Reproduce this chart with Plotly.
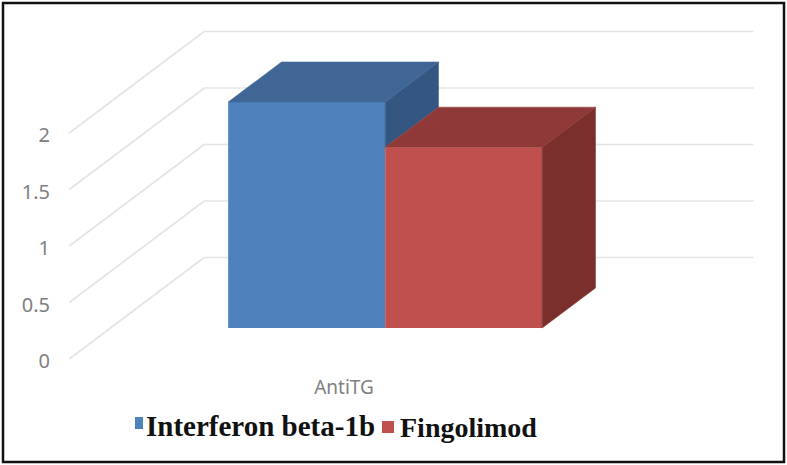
import plotly.graph_objects as go

categories = ["AntiTG"]
series_names = ["Interferon beta-1b", "Fingolimod"]
series_values = [2.0, 1.6]
tick_vals = [0, 0.5, 1, 1.5, 2]
tick_text = ["0", "0.5", "1", "1.5", "2"]

W, H = 787, 465
X0_PX, X_UNIT = 344, 157
Y0_PX, Y_UNIT = 359, 113
DX, DY = 135 / X_UNIT, 101.5 / Y_UNIT
NEAR, FAR = 0.305, 0.70
FLOOR_HALF = 1.75
FRONT = ["#4F81BD", "#C0504D"]
TOP = ["#3F6694", "#8F3A38"]
SIDE = ["#335781", "#7B2F2D"]
GRID = "#E4E4E4"


def proj(x, v, d):
    return x + d * DX, v + d * DY


x_range = [-X0_PX / X_UNIT, (W - X0_PX) / X_UNIT]
y_range = [(Y0_PX - H) / Y_UNIT, Y0_PX / Y_UNIT]


def px_x(p):
    return p / W


def px_y(p):
    return 1 - p / H


fig = go.Figure()

# front faces
for i, (name, val) in enumerate(zip(series_names, series_values)):
    cx = i - 0.5
    fig.add_trace(go.Bar(
        x=[proj(cx, 0, NEAR)[0]], y=[val], base=[proj(0, 0, NEAR)[1]], width=[1],
        marker=dict(color=FRONT[i], line=dict(width=0)),
        name=name, showlegend=False,
    ))


def poly(points, color):
    xs = [p[0] for p in points] + [points[0][0]]
    ys = [p[1] for p in points] + [points[0][1]]
    fig.add_trace(go.Scatter(
        x=xs, y=ys, mode="lines", fill="toself", fillcolor=color,
        line=dict(width=0.5, color=color), hoverinfo="skip", showlegend=False,
    ))


# side and top faces
for i, val in enumerate(series_values):
    left, right = i - 1, i
    low = series_values[i + 1] if i + 1 < len(series_values) else 0
    poly([proj(right, low, NEAR), proj(right, val, NEAR),
          proj(right, val, FAR), proj(right, low, FAR)], SIDE[i])
    poly([proj(left, val, NEAR), proj(right, val, NEAR),
          proj(right, val, FAR), proj(left, val, FAR)], TOP[i])

shapes = []
# gridlines: floor edge up the side wall, then along the back wall
for v in tick_vals:
    a = proj(-FLOOR_HALF, v, 0)
    b = proj(-FLOOR_HALF, v, 1)
    c = proj(FLOOR_HALF, v, 1)
    shapes.append(dict(type="line", xref="x", yref="y", layer="below",
                       x0=a[0], y0=a[1], x1=b[0], y1=b[1],
                       line=dict(color=GRID, width=1.6)))
    shapes.append(dict(type="line", xref="x", yref="y", layer="below",
                       x0=b[0], y0=b[1], x1=c[0], y1=c[1],
                       line=dict(color=GRID, width=1.6)))

# frame
shapes.append(dict(type="rect", xref="paper", yref="paper",
                   x0=px_x(3), x1=px_x(784), y0=px_y(462), y1=px_y(3),
                   line=dict(color="#111111", width=2.5)))
# legend keys
for (x0, x1, y0, y1), col in zip([(135, 143, 417, 429), (382, 394, 421, 433)], FRONT):
    shapes.append(dict(type="rect", xref="paper", yref="paper",
                       x0=px_x(x0), x1=px_x(x1), y0=px_y(y1), y1=px_y(y0),
                       fillcolor=col, line=dict(width=0)))

annotations = [
    dict(text=f"<b>{series_names[0]}</b>", x=px_x(144), y=px_y(426),
         font=dict(family="Liberation Serif", size=29, color="#111111")),
    dict(text=f"<b>{series_names[1]}</b>", x=px_x(398), y=px_y(427),
         font=dict(family="Liberation Serif", size=28, color="#111111")),
]
for a in annotations:
    a.update(xref="paper", yref="paper", xanchor="left", yanchor="middle", showarrow=False)

fig.update_layout(
    width=W, height=H, margin=dict(l=0, r=0, t=0, b=0),
    paper_bgcolor="white", plot_bgcolor="white",
    barmode="overlay", showlegend=False, shapes=shapes, annotations=annotations,
    xaxis=dict(range=x_range, domain=[0, 1], anchor="free", position=px_y(374),
               tickmode="array", tickvals=[0], ticktext=categories,
               showgrid=False, zeroline=False, showline=False, ticks="",
               tickfont=dict(family="Noto Sans", size=19, color="#808080")),
    yaxis=dict(range=y_range, domain=[0, 1], anchor="free", position=px_x(50),
               tickmode="array", tickvals=tick_vals, ticktext=tick_text,
               ticklabelshift=2,
               showgrid=False, zeroline=False, showline=False, ticks="",
               tickfont=dict(family="Noto Sans", size=20, color="#808080")),
)

fig.write_html("out.html", post_script="document.body.style.margin='0';",
               config={"displayModeBar": False})
